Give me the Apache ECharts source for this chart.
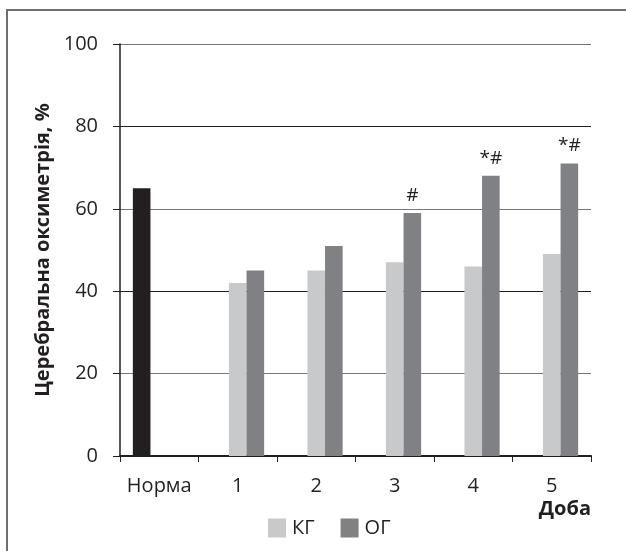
<!DOCTYPE html>
<html>
<head>
<meta charset="utf-8">
<script src="https://cdn.jsdelivr.net/npm/echarts@6/dist/echarts.min.js"></script>
<style>
html,body{margin:0;padding:0;background:#fff;}
#chart{width:626px;height:551px;}
</style>
</head>
<body>
<div id="chart"></div>
<script>
const categories = ['Норма', '1', '2', '3', '4', '5'];
const normaValues = [65, null, null, null, null, null];
const kgValues = [null, 42, 45, 47, 46, 49];
const ogValues = [null, 45, 51, 59, 68, 71];
const ogMarks = ['', '', '', '#', '*#', '*#'];
const yTicks = [0, 20, 40, 60, 80, 100];

const FONT = '"Open Sans", "DejaVu Sans", sans-serif';
const chart = echarts.init(document.getElementById('chart'));
chart.setOption({
  animation: false,
  backgroundColor: '#fff',
  grid: { left: 120, right: 35, top: 44, bottom: 95, containLabel: false },
  legend: {
    data: ['КГ', 'ОГ'],
    left: 268, top: 518, padding: 0,
    icon: 'rect', itemWidth: 18, itemHeight: 19, itemGap: 26,
    textStyle: { fontFamily: FONT, fontSize: 20, color: '#231f20', padding: [0, 0, 0, 1] }
  },
  xAxis: {
    type: 'category',
    data: categories,
    axisLine: { lineStyle: { color: '#231f20', width: 2 } },
    axisTick: { show: true, length: 6, lineStyle: { color: '#231f20', width: 1 } },
    axisLabel: { interval: 0, fontFamily: FONT, fontSize: 20, color: '#231f20', margin: 20 }
  },
  yAxis: {
    type: 'value',
    min: yTicks[0], max: yTicks[yTicks.length - 1], interval: 20,
    axisLine: { show: true, lineStyle: { color: '#231f20', width: 1.5 } },
    axisTick: { show: true, length: 7, lineStyle: { color: '#231f20', width: 1 } },
    axisLabel: { fontFamily: FONT, fontSize: 20, color: '#231f20', margin: 22 },
    splitLine: { show: true, lineStyle: { color: ['#231f20', '#767679'], width: 1.2 } }
  },
  series: [
    { name: 'Норма', type: 'bar', data: normaValues, barWidth: 17.6, barGap: '0%',
      itemStyle: { color: '#231f20' } },
    { name: 'КГ', type: 'bar', data: kgValues, barWidth: 17.6, barGap: '0%',
      itemStyle: { color: '#c8c9cb' } },
    { name: 'ОГ', type: 'bar', data: ogValues, barWidth: 17.6, barGap: '0%',
      itemStyle: { color: '#808184' },
      label: { show: true, position: 'top', distance: 8, fontFamily: FONT, fontSize: 19, color: '#231f20',
        formatter: p => ogMarks[p.dataIndex] } }
  ],
  graphic: [
    { type: 'rect', shape: { x: 7, y: 10, width: 700, height: 700 },
      style: { fill: 'none', stroke: '#6d6e71', lineWidth: 2 }, silent: true, z: -1 },
    { type: 'text', x: 43, y: 250, rotation: Math.PI / 2,
      style: { text: 'Церебральна оксиметрія, %', fontFamily: FONT, fontWeight: 'bold', fontSize: 20,
        fill: '#231f20', align: 'center', verticalAlign: 'middle' } },
    { type: 'text', x: 591, y: 509,
      style: { text: 'Доба', fontFamily: FONT, fontWeight: 'bold', fontSize: 20,
        fill: '#231f20', align: 'right', verticalAlign: 'middle' } }
  ]
});
</script>
</body>
</html>
